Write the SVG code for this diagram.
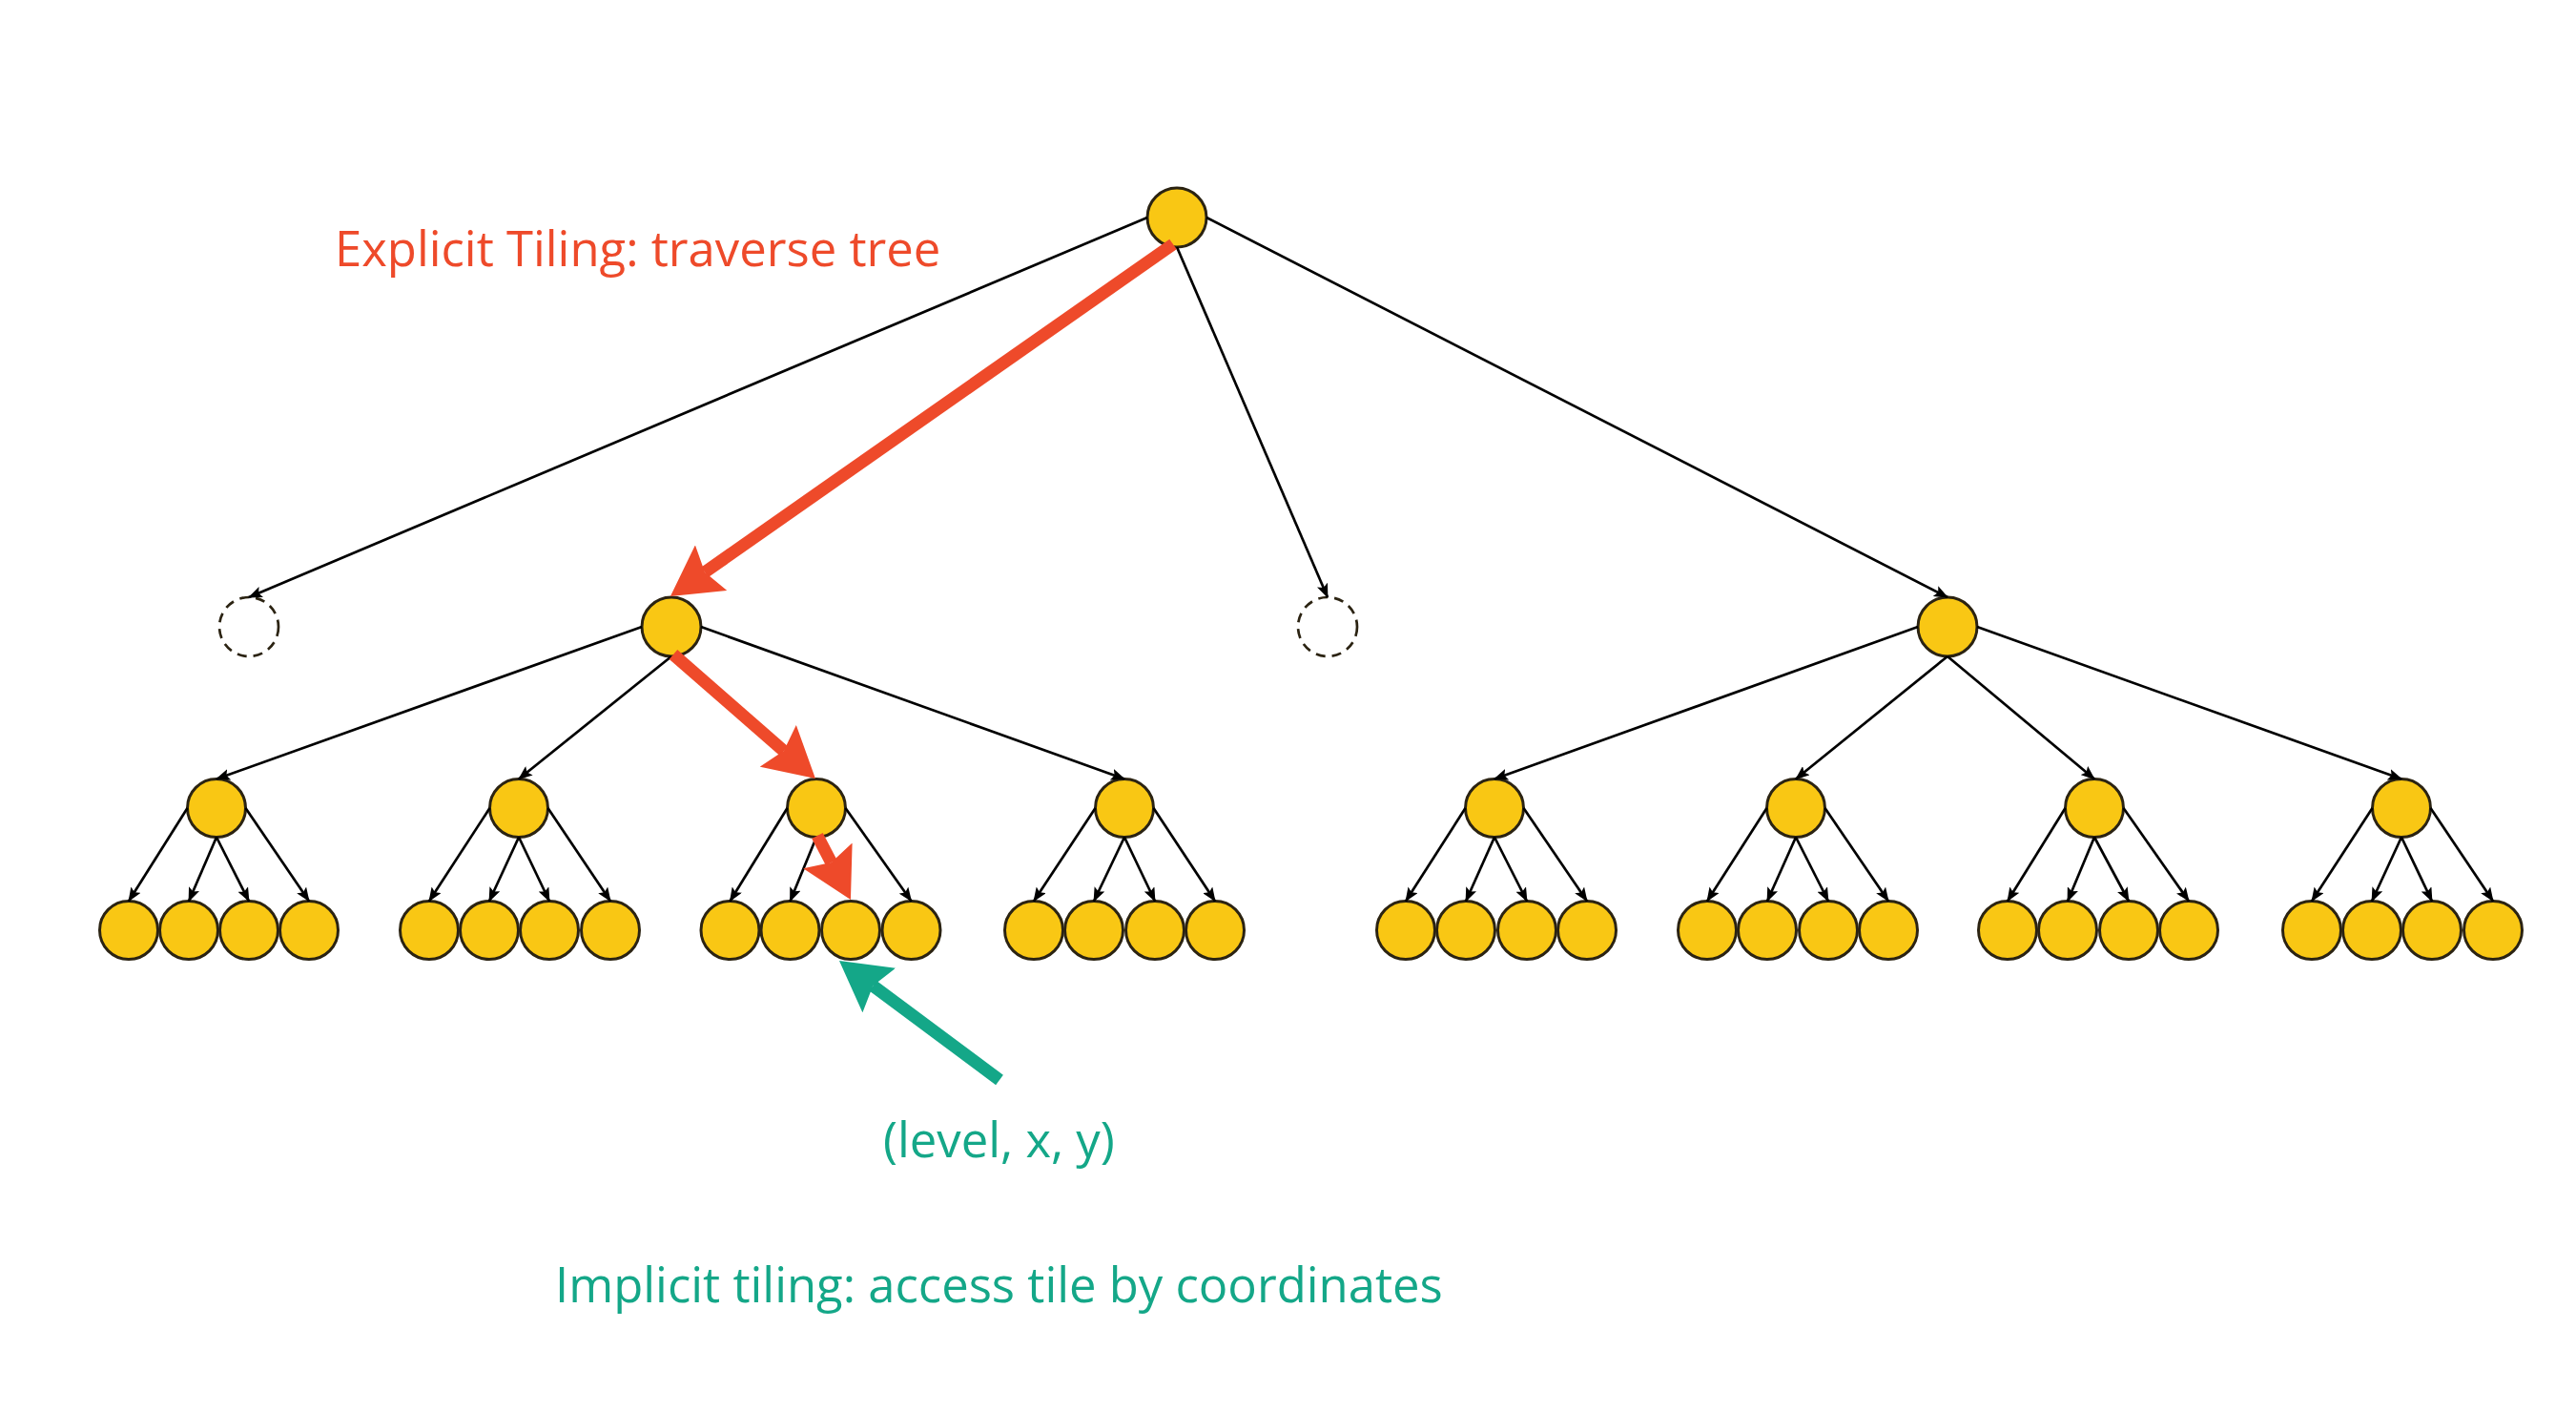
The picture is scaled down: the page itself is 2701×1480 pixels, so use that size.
<svg xmlns="http://www.w3.org/2000/svg" width="2701" height="1480" viewBox="0 0 2701 1480">
<style>
.n{fill:#F9C714;stroke:#2B2312;stroke-width:3}
.d{fill:none;stroke:#2B2312;stroke-width:2.7;stroke-dasharray:10 7}
.c{stroke:#000;stroke-width:2.7;fill:none;marker-end:url(#ah)}
.r{stroke:#EE4A2A;stroke-width:13;fill:none;marker-end:url(#rh)}
.g{stroke:#14A788;stroke-width:13;fill:none;marker-end:url(#gh)}
.t{font-family:"Open Sans","Noto Sans","Liberation Sans",sans-serif;font-size:50.8px}
</style>
<defs>
<marker id="ah" markerUnits="userSpaceOnUse" markerWidth="15" markerHeight="12" viewBox="0 0 15 12" refX="14" refY="6" orient="auto"><path d="M0,0 L15,6 L0,12 L3,6 z" fill="#000"/></marker>
<marker id="rh" markerUnits="userSpaceOnUse" markerWidth="52" markerHeight="58" viewBox="0 0 52 58" refX="8" refY="29" orient="auto"><path d="M0,0 L52,29 L0,58 L8,29 z" fill="#EE4A2A"/></marker>
<marker id="gh" markerUnits="userSpaceOnUse" markerWidth="52" markerHeight="58" viewBox="0 0 52 58" refX="8" refY="29" orient="auto"><path d="M0,0 L52,29 L0,58 L8,29 z" fill="#14A788"/></marker>
</defs>
<rect width="2701" height="1480" fill="#fff"/>
<g id="nodes">
<g id="root"><circle class="n" cx="1234" cy="228" r="31"/></g>
<g id="l1-empty-a"><circle class="d" cx="261" cy="657" r="31"/></g>
<g id="l1-a"><circle class="n" cx="704" cy="657" r="31"/></g>
<g id="l1-empty-b"><circle class="d" cx="1392" cy="657" r="31"/></g>
<g id="l1-b"><circle class="n" cx="2042" cy="657" r="31"/></g>
<g id="l2-1"><circle class="n" cx="227" cy="847" r="30.5"/></g>
<g id="l2-2"><circle class="n" cx="544" cy="847" r="30.5"/></g>
<g id="l2-3"><circle class="n" cx="856" cy="847" r="30.5"/></g>
<g id="l2-4"><circle class="n" cx="1179" cy="847" r="30.5"/></g>
<g id="l2-5"><circle class="n" cx="1567" cy="847" r="30.5"/></g>
<g id="l2-6"><circle class="n" cx="1883" cy="847" r="30.5"/></g>
<g id="l2-7"><circle class="n" cx="2196" cy="847" r="30.5"/></g>
<g id="l2-8"><circle class="n" cx="2518" cy="847" r="30.5"/></g>
<g id="l3-1-1"><circle class="n" cx="135" cy="975" r="30.5"/></g>
<g id="l3-1-2"><circle class="n" cx="198" cy="975" r="30.5"/></g>
<g id="l3-1-3"><circle class="n" cx="261" cy="975" r="30.5"/></g>
<g id="l3-1-4"><circle class="n" cx="324" cy="975" r="30.5"/></g>
<g id="l3-2-1"><circle class="n" cx="450" cy="975" r="30.5"/></g>
<g id="l3-2-2"><circle class="n" cx="513" cy="975" r="30.5"/></g>
<g id="l3-2-3"><circle class="n" cx="576" cy="975" r="30.5"/></g>
<g id="l3-2-4"><circle class="n" cx="640" cy="975" r="30.5"/></g>
<g id="l3-3-1"><circle class="n" cx="765.5" cy="975" r="30.5"/></g>
<g id="l3-3-2"><circle class="n" cx="828.5" cy="975" r="30.5"/></g>
<g id="l3-3-3"><circle class="n" cx="892" cy="975" r="30.5"/></g>
<g id="l3-3-4"><circle class="n" cx="955.5" cy="975" r="30.5"/></g>
<g id="l3-4-1"><circle class="n" cx="1084" cy="975" r="30.5"/></g>
<g id="l3-4-2"><circle class="n" cx="1147" cy="975" r="30.5"/></g>
<g id="l3-4-3"><circle class="n" cx="1211" cy="975" r="30.5"/></g>
<g id="l3-4-4"><circle class="n" cx="1274" cy="975" r="30.5"/></g>
<g id="l3-5-1"><circle class="n" cx="1474" cy="975" r="30.5"/></g>
<g id="l3-5-2"><circle class="n" cx="1537" cy="975" r="30.5"/></g>
<g id="l3-5-3"><circle class="n" cx="1601" cy="975" r="30.5"/></g>
<g id="l3-5-4"><circle class="n" cx="1664" cy="975" r="30.5"/></g>
<g id="l3-6-1"><circle class="n" cx="1790" cy="975" r="30.5"/></g>
<g id="l3-6-2"><circle class="n" cx="1853" cy="975" r="30.5"/></g>
<g id="l3-6-3"><circle class="n" cx="1917" cy="975" r="30.5"/></g>
<g id="l3-6-4"><circle class="n" cx="1980" cy="975" r="30.5"/></g>
<g id="l3-7-1"><circle class="n" cx="2105" cy="975" r="30.5"/></g>
<g id="l3-7-2"><circle class="n" cx="2168" cy="975" r="30.5"/></g>
<g id="l3-7-3"><circle class="n" cx="2232" cy="975" r="30.5"/></g>
<g id="l3-7-4"><circle class="n" cx="2295" cy="975" r="30.5"/></g>
<g id="l3-8-1"><circle class="n" cx="2424" cy="975" r="30.5"/></g>
<g id="l3-8-2"><circle class="n" cx="2487" cy="975" r="30.5"/></g>
<g id="l3-8-3"><circle class="n" cx="2550" cy="975" r="30.5"/></g>
<g id="l3-8-4"><circle class="n" cx="2614" cy="975" r="30.5"/></g>
</g>
<g id="connectors">
<path class="c" d="M1203,228 L261,626"/>
<path class="c" d="M1234,259 L1392,626"/>
<path class="c" d="M1265,228 L2042,626"/>
<path class="c" d="M673,657 L227,816.5"/>
<path class="c" d="M704,688 L544,816.5"/>
<path class="c" d="M735,657 L1179,816.5"/>
<path class="c" d="M2011,657 L1567,816.5"/>
<path class="c" d="M2042,688 L1883,816.5"/>
<path class="c" d="M2042,688 L2196,816.5"/>
<path class="c" d="M2073,657 L2518,816.5"/>
<path class="c" d="M196.5,847 L135,944.5"/><path class="c" d="M227,877.5 L198,944.5"/><path class="c" d="M227,877.5 L261,944.5"/><path class="c" d="M257.5,847 L324,944.5"/>
<path class="c" d="M513.5,847 L450,944.5"/><path class="c" d="M544,877.5 L513,944.5"/><path class="c" d="M544,877.5 L576,944.5"/><path class="c" d="M574.5,847 L640,944.5"/>
<path class="c" d="M825.5,847 L765.5,944.5"/><path class="c" d="M856,877.5 L828.5,944.5"/><path class="c" d="M886.5,847 L955.5,944.5"/>
<path class="c" d="M1148.5,847 L1084,944.5"/><path class="c" d="M1179,877.5 L1147,944.5"/><path class="c" d="M1179,877.5 L1211,944.5"/><path class="c" d="M1209.5,847 L1274,944.5"/>
<path class="c" d="M1536.5,847 L1474,944.5"/><path class="c" d="M1567,877.5 L1537,944.5"/><path class="c" d="M1567,877.5 L1601,944.5"/><path class="c" d="M1597.5,847 L1664,944.5"/>
<path class="c" d="M1852.5,847 L1790,944.5"/><path class="c" d="M1883,877.5 L1853,944.5"/><path class="c" d="M1883,877.5 L1917,944.5"/><path class="c" d="M1913.5,847 L1980,944.5"/>
<path class="c" d="M2165.5,847 L2105,944.5"/><path class="c" d="M2196,877.5 L2168,944.5"/><path class="c" d="M2196,877.5 L2232,944.5"/><path class="c" d="M2226.5,847 L2295,944.5"/>
<path class="c" d="M2487.5,847 L2424,944.5"/><path class="c" d="M2518,877.5 L2487,944.5"/><path class="c" d="M2518,877.5 L2550,944.5"/><path class="c" d="M2548.5,847 L2614,944.5"/>
<path class="r" d="M1230,256 L739,599.7"/>
<path class="r" d="M706,686 L821.8,787.1"/>
<path class="r" d="M857,876 L871.6,904"/>
<path class="g" d="M1048,1132 L915.3,1033.3"/>
</g>
<g id="labels">
<text class="t" x="351" y="279" fill="#EE4A2A">Explicit Tiling: traverse tree</text>
<text class="t" x="926" y="1213" fill="#14A788">(level, x, y)</text>
<text class="t" x="582" y="1365" fill="#14A788">Implicit tiling: access tile by coordinates</text>
</g>
</svg>
